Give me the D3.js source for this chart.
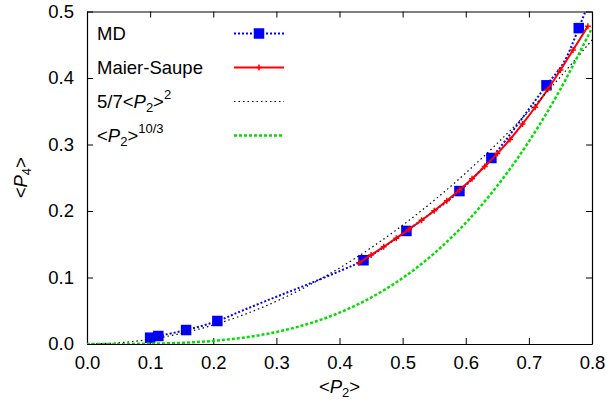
<!DOCTYPE html>
<html>
<head>
<meta charset="utf-8">
<script src="https://cdn.jsdelivr.net/npm/d3@7"></script>
<style>
  html, body { margin: 0; padding: 0; background: #fff; }
  svg { display: block; font-family: "Liberation Sans", Arial, Helvetica, sans-serif; }
  .tick text { font-size: 18.5px; fill: #000; }
</style>
</head>
<body>
<svg id="chart" width="607" height="403"></svg>
<script>
// MD simulation results: <P2> and <P4>
const mdP2 = [0.100, 0.113, 0.157, 0.2065, 0.438, 0.506, 0.590, 0.6406, 0.7279, 0.779];
const mdP4 = [0.0095, 0.012, 0.021, 0.0346, 0.126, 0.170, 0.230, 0.2797, 0.389, 0.475];

// Smooth guide line through the MD results
const mdLineP2 = [0.100, 0.113, 0.157, 0.2065, 0.248, 0.300, 0.353, 0.406, 0.438, 0.506, 0.590, 0.6406, 0.7279, 0.755, 0.779, 0.7895];
const mdLineP4 = [0.0095, 0.012, 0.021, 0.0346, 0.051, 0.071, 0.091, 0.112, 0.126, 0.170, 0.230, 0.2797, 0.389, 0.423, 0.475, 0.500];

// Maier-Saupe theory
const msP2 = [0.431, 0.45, 0.47, 0.49, 0.51, 0.53, 0.55, 0.57, 0.59, 0.61, 0.63, 0.65, 0.67, 0.69, 0.71, 0.73, 0.75, 0.77, 0.7935];
const msP4 = [0.122, 0.1338, 0.1463, 0.1591, 0.1723, 0.1860, 0.2004, 0.2155, 0.2315, 0.2485, 0.2668, 0.2863, 0.3075, 0.331, 0.356, 0.383, 0.412, 0.442, 0.478];

// Reference curves sampled on a common <P2> grid
const gridP2 = [0, 0.05, 0.10, 0.15, 0.20, 0.25, 0.30, 0.35, 0.40, 0.45, 0.50, 0.55, 0.60, 0.65, 0.70, 0.75, 0.80];
const quadP4 = [0, 0.001786, 0.007143, 0.016071, 0.028571, 0.044643, 0.064286, 0.0875, 0.114286, 0.144643, 0.178571, 0.216071, 0.257143, 0.301786, 0.35, 0.401786, 0.457143];
const powP4 = [0, 0.000046, 0.000464, 0.001795, 0.004678, 0.009843, 0.018072, 0.030218, 0.047149, 0.069833, 0.099213, 0.136283, 0.182160, 0.237900, 0.304560, 0.383281, 0.475310];

// Axis ticks
const xTicks = [0, 0.1, 0.2, 0.3, 0.4, 0.5, 0.6, 0.7, 0.8];
const yTicks = [0, 0.1, 0.2, 0.3, 0.4, 0.5];

const svg = d3.select("#chart");
const L = 87, R = 592, T = 11.5, B = 344;
const x = d3.scaleLinear().domain([0, 0.8]).range([L, R]);
const y = d3.scaleLinear().domain([0, 0.5]).range([B, T]);

svg.append("defs").append("clipPath").attr("id", "plot")
  .append("rect").attr("x", L).attr("y", T).attr("width", R - L).attr("height", B - T);

// Axes with inward ticks, mirrored on top and right
const fmt = d3.format(".1f");
const gx = svg.append("g").attr("transform", `translate(0,${B})`)
  .call(d3.axisBottom(x).tickValues(xTicks).tickFormat(fmt).tickSizeInner(-6).tickSizeOuter(0).tickPadding(12));
const gy = svg.append("g").attr("transform", `translate(${L},0)`)
  .call(d3.axisLeft(y).tickValues(yTicks).tickFormat(fmt).tickSizeInner(-6).tickSizeOuter(0).tickPadding(13));
const gt = svg.append("g").attr("transform", `translate(0,${T})`)
  .call(d3.axisTop(x).tickValues(xTicks).tickFormat("").tickSizeInner(-6).tickSizeOuter(0));
const gr = svg.append("g").attr("transform", `translate(${R},0)`)
  .call(d3.axisRight(y).tickValues(yTicks).tickFormat("").tickSizeInner(-6).tickSizeOuter(0));
[gx, gy, gt, gr].forEach(g => {
  g.selectAll("path.domain").attr("stroke", "#000").attr("stroke-width", 1.2);
  g.selectAll(".tick line").attr("stroke", "#000").attr("stroke-width", 1);
  g.attr("font-family", null).attr("font-size", null);
});

const plot = svg.append("g").attr("clip-path", "url(#plot)");
const zip = (a, b) => a.map((v, i) => [v, b[i]]);
const line = d3.line().x(d => x(d[0])).y(d => y(d[1]));

// MD guide line and points
plot.append("path").datum(zip(mdLineP2, mdLineP4))
  .attr("d", line.curve(d3.curveCatmullRom.alpha(0.5)))
  .attr("fill", "none").attr("stroke", "#0000ff").attr("stroke-width", 2).attr("stroke-dasharray", "2,2");
const sq = 10.5;
plot.selectAll("rect.md").data(zip(mdP2, mdP4)).join("rect").attr("class", "md")
  .attr("x", d => x(d[0]) - sq / 2).attr("y", d => y(d[1]) - sq / 2)
  .attr("width", sq).attr("height", sq).attr("fill", "#0000ff");

// Maier-Saupe line with point markers
plot.append("path").datum(zip(msP2, msP4))
  .attr("d", line.curve(d3.curveCatmullRom.alpha(0.5)))
  .attr("fill", "none").attr("stroke", "#ff0000").attr("stroke-width", 2);
const plus = (g, cx, cy, s, color) => {
  g.append("path").attr("d", `M${cx - s},${cy}H${cx + s}M${cx},${cy - s}V${cy + s}`)
    .attr("stroke", color).attr("stroke-width", 1.5).attr("fill", "none");
};
zip(msP2, msP4).forEach(d => plus(plot, x(d[0]), y(d[1]), 3, "#ff0000"));

// 5/7 <P2>^2
plot.append("path").datum(zip(gridP2, quadP4))
  .attr("d", line.curve(d3.curveCatmullRom.alpha(0.5)))
  .attr("fill", "none").attr("stroke", "#000").attr("stroke-width", 1.2).attr("stroke-dasharray", "1.5,3");

// <P2>^(10/3)
plot.append("path").datum(zip(gridP2, powP4))
  .attr("d", line.curve(d3.curveCatmullRom.alpha(0.5)))
  .attr("fill", "none").attr("stroke", "#00e000").attr("stroke-width", 2.5).attr("stroke-dasharray", "3,2");

// Legend
const FS = 18.5, SFS = 13;
const leg = svg.append("g").attr("font-size", FS);
const lx = 97, sx0 = 234, sx1 = 284, rowY = [40, 74, 108, 142];

function sampleLine(yy, color, width, dash) {
  leg.append("line").attr("x1", sx0).attr("x2", sx1).attr("y1", yy).attr("y2", yy)
    .attr("stroke", color).attr("stroke-width", width).attr("stroke-dasharray", dash);
}
// MD
leg.append("text").attr("x", lx).attr("y", rowY[0]).text("MD");
sampleLine(rowY[0] - 6.5, "#0000ff", 2, "2,2");
leg.append("rect").attr("x", 259 - sq / 2).attr("y", rowY[0] - 6.5 - sq / 2)
  .attr("width", sq).attr("height", sq).attr("fill", "#0000ff");
// Maier-Saupe
leg.append("text").attr("x", lx).attr("y", rowY[1]).text("Maier-Saupe");
sampleLine(rowY[1] - 6.5, "#ff0000", 2, null);
plus(leg, 259, rowY[1] - 6.5, 3, "#ff0000");
// 5/7<P2>^2
const t3 = leg.append("text").attr("x", lx).attr("y", rowY[2]);
t3.append("tspan").text("5/7<");
t3.append("tspan").attr("font-style", "italic").text("P");
t3.append("tspan").attr("font-size", SFS).attr("dy", 4).text("2");
t3.append("tspan").attr("dy", -4).text(">");
t3.append("tspan").attr("font-size", SFS).attr("dy", -9).text("2");
sampleLine(rowY[2] - 6.5, "#000", 1.2, "1.5,3");
// <P2>^10/3
const t4 = leg.append("text").attr("x", lx).attr("y", rowY[3]);
t4.append("tspan").text("<");
t4.append("tspan").attr("font-style", "italic").text("P");
t4.append("tspan").attr("font-size", SFS).attr("dy", 4).text("2");
t4.append("tspan").attr("dy", -4).text(">");
t4.append("tspan").attr("font-size", SFS).attr("dy", -9).text("10/3");
sampleLine(rowY[3] - 6.5, "#00e000", 2.5, "3,2");

// Axis titles
const xl = svg.append("text").attr("x", (L + R) / 2).attr("y", 393)
  .attr("text-anchor", "middle").attr("font-size", FS);
xl.append("tspan").text("<");
xl.append("tspan").attr("font-style", "italic").text("P");
xl.append("tspan").attr("font-size", SFS).attr("dy", 4).text("2");
xl.append("tspan").attr("dy", -4).text(">");

const yl = svg.append("text").attr("transform", `translate(27,${(T + B) / 2}) rotate(-90)`)
  .attr("text-anchor", "middle").attr("font-size", FS);
yl.append("tspan").text("<");
yl.append("tspan").attr("font-style", "italic").text("P");
yl.append("tspan").attr("font-size", SFS).attr("dy", 4).text("4");
yl.append("tspan").attr("dy", -4).text(">");
</script>
</body>
</html>
